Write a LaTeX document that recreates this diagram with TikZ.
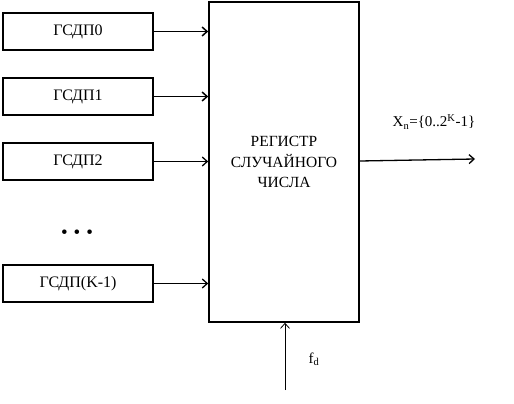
\documentclass[tikz,border=0pt]{standalone}
\usepackage{fontspec}
\setmainfont{Liberation Serif}
\usetikzlibrary{arrows.meta, positioning}

\tikzset{
	gen/.style={draw, line width=1.6pt, minimum width=150pt, minimum height=37pt, inner sep=0pt, font=\fontsize{16}{18}\selectfont},
	reg/.style={draw, line width=1.6pt, minimum width=150pt, minimum height=320pt, inner sep=0pt, align=center, font=\fontsize{15.5}{20.5}\selectfont},
}

\begin{document}
\begin{tikzpicture}[x=1pt, y=-1pt, >={Straight Barb[length=5pt,width=9pt]}]
			\useasboundingbox (0,0) rectangle (514,404);
			\node[reg] (rg) at (284,162) {РЕГИСТР\\СЛУЧАЙНОГО\\ЧИСЛА};
			\node[gen] (g0) at (78,31.5) {ГСДП0};
			\node[gen] (g1) at (78,96.5) {ГСДП1};
			\node[gen] (g2) at (78,161.5) {ГСДП2};
			\node[font=\fontsize{19}{20}\selectfont] (dots) at (77,234) {\textbullet\hspace{6pt}\textbullet\hspace{6pt}\textbullet};
			\node[gen] (gk) at (78,283.5) {ГСДП(K-1)};
			% inputs
			\draw[->, line width=1.5pt] (g0.east) -- (g0.east -| rg.west);
			\draw[->, line width=1.5pt] (g1.east) -- (g1.east -| rg.west);
			\draw[->, line width=1.3pt] (g2.east) -- (g2.east -| rg.west);
			\draw[->, line width=1.3pt] (gk.east) -- (gk.east -| rg.west);
			% output
			\coordinate (out) at (475,159);
			\draw[->, line width=1.3pt] (rg.east |- 0,161) -- (out);
			\node[font=\fontsize{15}{17}\selectfont] (xn) at (434,122) {X\textsubscript{n}=\{0..2\textsuperscript{K}-1\}};
			% clock
			\coordinate (clk) at (285,390);
			\draw[->, line width=0.8pt] (clk) -- (clk |- rg.south);
			\node[font=\fontsize{15}{17}\selectfont] (fd) at (314,359) {f\textsubscript{d}};
		\end{tikzpicture}
\end{document}
